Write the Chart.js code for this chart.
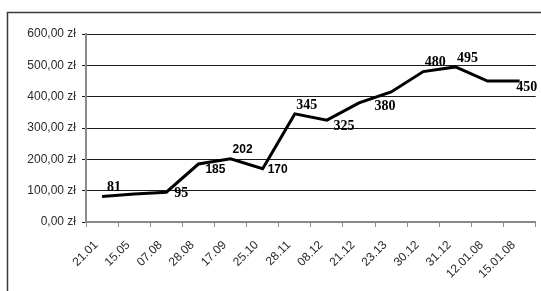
<!DOCTYPE html>
<html><head><meta charset="utf-8">
<script src="https://cdn.jsdelivr.net/npm/chart.js@4/dist/chart.umd.min.js"></script>
<style>html,body{margin:0;padding:0;background:#fff;overflow:hidden}#wrap{width:541px;height:291px;position:relative}</style>
</head><body><div id="wrap"><canvas id="c" width="541" height="291"></canvas></div>
<script>
const categories = ['21.01','15.05','07.08','28.08','17.09','25.10','28.11','08.12','21.12','23.13','30.12','31.12','12.01.08','15.01.08'];
const prices = [81, 89, 95, 185, 202, 170, 345, 325, 380, 415, 480, 495, 450, 450];
const yTickValues = [0, 100, 200, 300, 400, 500, 600];
const shownValueLabels = [true, false, true, true, true, true, true, true, true, false, true, true, false, true];

const placeOffsets = {ne:[12,-9], e:[15,1], se:[17,6], far:[26,3], end:[7,6]};
const labelPlacement = ['ne','e','e','se','ne','e','ne','se','far','e','ne','ne','e','end'];
const sansLabels = [3,4,5];

const frame = {
  id: 'frame',
  beforeDraw(chart){
    const c = chart.ctx;
    c.save();
    c.strokeStyle = '#3a3a3a';
    c.lineWidth = 1.5;
    c.beginPath();
    c.moveTo(7.5, 291); c.lineTo(7.5, 12.5); c.lineTo(541, 12.5);
    c.stroke();
    c.restore();
  }
};

const valueLabels = {
  id: 'valueLabels',
  afterDatasetsDraw(chart){
    const c = chart.ctx;
    const meta = chart.getDatasetMeta(0);
    c.save();
    c.fillStyle = '#000';
    c.textAlign = 'center';
    c.textBaseline = 'middle';
    meta.data.forEach((pt, i) => {
      if (!shownValueLabels[i]) return;
      const off = placeOffsets[labelPlacement[i]];
      c.font = sansLabels.includes(i) ? 'bold 12px "Liberation Sans", Arial, sans-serif' : 'bold 14px "Liberation Serif", "Times New Roman", serif';
      c.fillText(String(prices[i]), pt.x + off[0], pt.y + off[1]);
    });
    c.restore();
  }
};

new Chart(document.getElementById('c'), {
  type: 'line',
  data: {
    labels: categories,
    datasets: [{
      data: prices,
      borderColor: '#000',
      borderWidth: 3,
      pointRadius: 0,
      tension: 0,
      fill: false
    }]
  },
  options: {
    responsive: false,
    animation: false,
    devicePixelRatio: 1,
    layout: {padding: {left: 0, right: 5, top: 34, bottom: 0}},
    plugins: {legend: {display: false}, tooltip: {enabled: false}, title: {display: false}},
    scales: {
      y: {
        min: 0, max: 600,
        afterBuildTicks(scale){ scale.ticks = yTickValues.map(v => ({value: v})); },
        afterFit(scale){ scale.width = 86; },
        ticks: {
          font: {family: '"Liberation Sans", Arial, sans-serif', size: 12},
          color: '#2a2a2a',
          padding: 6,
          callback: v => v.toFixed(2).replace('.', ',') + ' zł'
        },
        grid: {
          color: ctx => (ctx.tick && ctx.tick.value === 0) ? 'rgba(0,0,0,0)' : '#1a1a1a',
          lineWidth: 1,
          tickLength: 4,
          tickColor: '#1a1a1a'
        },
        border: {color: '#8a8a8a', width: 2}
      },
      x: {
        offset: true,
        afterFit(scale){ scale.height = 69; },
        ticks: {
          font: {family: '"Liberation Sans", Arial, sans-serif', size: 12},
          color: '#2a2a2a',
          minRotation: 45, maxRotation: 45,
          autoSkip: false,
          labelOffset: -6,
          padding: 11
        },
        grid: {drawOnChartArea: false, color: '#8a8a8a', tickLength: 5, offset: true},
        border: {color: '#8a8a8a', width: 2}
      }
    }
  },
  plugins: [frame, valueLabels]
});
</script>
</body></html>
